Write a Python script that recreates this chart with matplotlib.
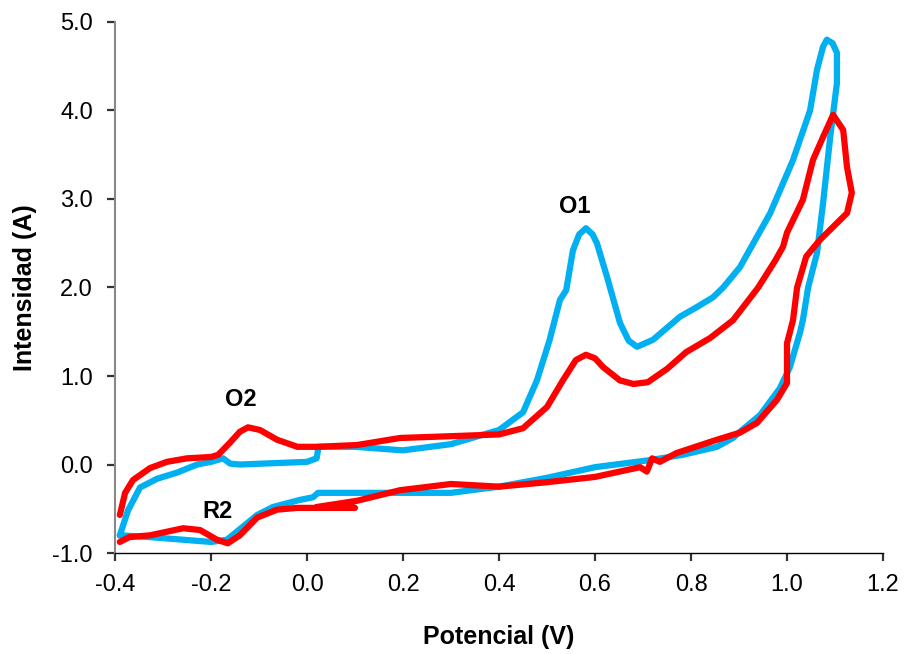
import matplotlib
matplotlib.use("Agg")
import matplotlib.pyplot as plt

plt.rcParams['font.family'] = ['Liberation Sans', 'DejaVu Sans']

# curva azul: barrido de ida y vuelta
azul_x = [-0.39, -0.373, -0.348, -0.312, -0.27, -0.229, -0.2, -0.175, -0.16, -0.14, 0.0, 0.02,
          0.024, 0.1, 0.2, 0.3, 0.4, 0.45, 0.479, 0.505, 0.527, 0.54, 0.554, 0.567, 0.581,
          0.595, 0.604, 0.625, 0.652, 0.67, 0.6875, 0.721, 0.777, 0.8125, 0.846, 0.867, 0.902,
          0.965, 1.0125, 1.048, 1.0625, 1.075, 1.083, 1.095, 1.104, 1.104, 1.09, 1.075, 1.0625,
          1.044, 1.033, 1.027, 1.006, 0.985, 0.944, 0.902, 0.8875, 0.854, 0.783, 0.715, 0.6,
          0.5, 0.4, 0.3, 0.194, 0.104, 0.023, 0.0125, -0.015, -0.071, -0.104, -0.133, -0.167,
          -0.2, -0.258, -0.327, -0.39]
azul_y = [-0.8, -0.52, -0.26, -0.16, -0.09, 0.0, 0.03, 0.07, 0.01, 0.0, 0.03, 0.07,
          0.2, 0.2, 0.16, 0.23, 0.39, 0.59, 0.95, 1.4, 1.86, 1.97, 2.42, 2.6, 2.67,
          2.6, 2.5, 2.12, 1.6, 1.4, 1.33, 1.41, 1.67, 1.78, 1.89, 2.0, 2.23,
          2.84, 3.44, 4.0, 4.46, 4.72, 4.8, 4.76, 4.65, 4.31, 3.7, 2.95, 2.39,
          2.0, 1.63, 1.49, 1.1, 0.86, 0.56, 0.37, 0.3, 0.2, 0.11, 0.05, -0.03,
          -0.15, -0.25, -0.32, -0.32, -0.32, -0.32, -0.37, -0.4, -0.48, -0.57, -0.7, -0.85,
          -0.875, -0.85, -0.82, -0.8]

# curva roja: barrido de ida y vuelta
rojo_x = [-0.39, -0.379, -0.3625, -0.327, -0.292, -0.25, -0.2, -0.185, -0.16, -0.14, -0.123,
          -0.098, -0.0625, -0.02, 0.02, 0.104, 0.194, 0.3, 0.4, 0.45, 0.5, 0.533, 0.56, 0.581,
          0.6, 0.617, 0.652, 0.68, 0.71, 0.75, 0.79, 0.84, 0.8875, 0.94, 0.975, 0.9917, 1.0,
          1.033, 1.054, 1.075, 1.096, 1.117, 1.125, 1.135, 1.125, 1.069, 1.04, 1.021, 1.0125,
          1.0, 1.0, 0.979, 0.9375, 0.902, 0.854, 0.77, 0.735, 0.719, 0.708, 0.694, 0.6, 0.5,
          0.4, 0.3, 0.194, 0.104, 0.02, 0.1, 0.0, -0.02, -0.0625, -0.104, -0.14, -0.165,
          -0.1875, -0.223, -0.258, -0.327, -0.37, -0.39]
rojo_y = [-0.57, -0.32, -0.175, -0.04, 0.03, 0.07, 0.085, 0.11, 0.25, 0.37, 0.42,
          0.39, 0.28, 0.2, 0.2, 0.22, 0.3, 0.32, 0.34, 0.41, 0.65, 0.95, 1.18, 1.24,
          1.2, 1.1, 0.95, 0.91, 0.93, 1.08, 1.27, 1.43, 1.63, 2.0, 2.3, 2.46, 2.62,
          2.99, 3.44, 3.7, 3.95, 3.78, 3.36, 3.07, 2.84, 2.54, 2.35, 2.0, 1.63,
          1.37, 0.92, 0.73, 0.47, 0.36, 0.28, 0.13, 0.03, 0.07, -0.08, -0.03, -0.14, -0.2,
          -0.25, -0.22, -0.29, -0.41, -0.48, -0.49, -0.49, -0.49, -0.51, -0.6, -0.8, -0.89,
          -0.85, -0.74, -0.72, -0.8, -0.82, -0.875]

etiquetas = ['O1', 'O2', 'R2']
etiq_x = [0.557, -0.137, -0.186]
etiq_y = [2.92, 0.73, -0.53]

fig = plt.figure(figsize=(9.05, 6.54), dpi=100)
ax = fig.add_axes([0.1271, 0.1544, 0.8486, 0.812])

ax.plot(azul_x, azul_y, color='#00B0F0', linewidth=4.5, solid_joinstyle='round', solid_capstyle='round')
ax.plot(rojo_x, rojo_y, color='#FF0000', linewidth=4.5, solid_joinstyle='round', solid_capstyle='round')

for t, x, y in zip(etiquetas, etiq_x, etiq_y):
    ax.text(x, y, t, fontsize=17, fontweight='bold', ha='center', va='center')

ax.set_xlim(-0.4, 1.2)
ax.set_ylim(-1.0, 5.0)
ax.set_xticks([-0.4, -0.2, 0.0, 0.2, 0.4, 0.6, 0.8, 1.0, 1.2])
ax.set_yticks([-1.0, 0.0, 1.0, 2.0, 3.0, 4.0, 5.0])
ax.set_xticklabels(['%.1f' % v for v in ax.get_xticks()])
ax.set_yticklabels(['%.1f' % v for v in ax.get_yticks()])
ax.tick_params(axis='both', labelsize=17, direction='out', length=6, width=1.6, color='#333333')
ax.tick_params(axis='x', pad=9)
ax.tick_params(axis='y', pad=10)

for s in ['top', 'right']:
    ax.spines[s].set_visible(False)
ax.spines['left'].set_color('#888888')
ax.spines['left'].set_linewidth(1.5)
ax.spines['bottom'].set_color('black')
ax.spines['bottom'].set_linewidth(1.0)

ax.set_xlabel('Potencial (V)', fontsize=18, fontweight='bold', labelpad=21)
ax.set_ylabel('Intensidad (A)', fontsize=18, fontweight='bold', labelpad=11)

fig.savefig('out.png', dpi=100)
